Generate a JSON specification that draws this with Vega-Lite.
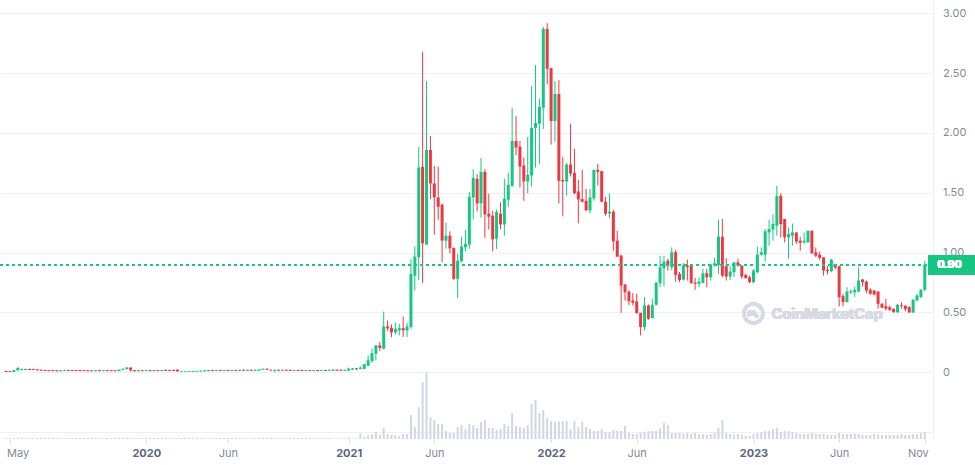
{
"$schema": "https://vega.github.io/schema/vega-lite/v6.json",
"width": 933,
"height": 439,
"autosize": {"type": "none"},
"padding": {"left": 0, "top": 0, "right": 42, "bottom": 26},
"background": "#ffffff",
"config": {"view": {"stroke": null}, "font": "Inter"},
"data": {"values": [
{"d":"2019-04-29","o":0.011,"h":0.012,"l":0.002,"c":0.003,"v":1.5},
{"d":"2019-05-06","o":0.010,"h":0.011,"l":0.002,"c":0.003,"v":1.5},
{"d":"2019-05-13","o":0.004,"h":0.021,"l":0.003,"c":0.019,"v":1.5},
{"d":"2019-05-20","o":0.016,"h":0.043,"l":0.014,"c":0.036,"v":1.5},
{"d":"2019-05-27","o":0.019,"h":0.031,"l":0.018,"c":0.028,"v":1.5},
{"d":"2019-06-03","o":0.019,"h":0.030,"l":0.018,"c":0.028,"v":1.5},
{"d":"2019-06-10","o":0.028,"h":0.031,"l":0.018,"c":0.020,"v":1.5},
{"d":"2019-06-17","o":0.027,"h":0.029,"l":0.018,"c":0.019,"v":1.5},
{"d":"2019-06-24","o":0.024,"h":0.025,"l":0.014,"c":0.016,"v":1.5},
{"d":"2019-07-01","o":0.022,"h":0.023,"l":0.012,"c":0.014,"v":1.5},
{"d":"2019-07-08","o":0.020,"h":0.021,"l":0.011,"c":0.012,"v":1.5},
{"d":"2019-07-15","o":0.018,"h":0.019,"l":0.009,"c":0.010,"v":1.5},
{"d":"2019-07-22","o":0.018,"h":0.019,"l":0.009,"c":0.010,"v":1.5},
{"d":"2019-07-29","o":0.017,"h":0.018,"l":0.007,"c":0.009,"v":1.5},
{"d":"2019-08-05","o":0.009,"h":0.019,"l":0.008,"c":0.017,"v":1.5},
{"d":"2019-08-12","o":0.012,"h":0.022,"l":0.011,"c":0.020,"v":1.5},
{"d":"2019-08-19","o":0.020,"h":0.021,"l":0.011,"c":0.012,"v":1.5},
{"d":"2019-08-26","o":0.019,"h":0.020,"l":0.010,"c":0.011,"v":1.5},
{"d":"2019-09-02","o":0.019,"h":0.020,"l":0.010,"c":0.011,"v":1.5},
{"d":"2019-09-09","o":0.019,"h":0.020,"l":0.009,"c":0.011,"v":1.5},
{"d":"2019-09-16","o":0.018,"h":0.019,"l":0.009,"c":0.010,"v":1.5},
{"d":"2019-09-23","o":0.017,"h":0.018,"l":0.008,"c":0.009,"v":1.5},
{"d":"2019-09-30","o":0.017,"h":0.018,"l":0.008,"c":0.009,"v":1.5},
{"d":"2019-10-07","o":0.009,"h":0.019,"l":0.008,"c":0.017,"v":1.5},
{"d":"2019-10-14","o":0.018,"h":0.019,"l":0.009,"c":0.010,"v":1.5},
{"d":"2019-10-21","o":0.010,"h":0.020,"l":0.009,"c":0.018,"v":1.5},
{"d":"2019-10-28","o":0.018,"h":0.020,"l":0.009,"c":0.010,"v":1.5},
{"d":"2019-11-04","o":0.018,"h":0.019,"l":0.009,"c":0.010,"v":1.5},
{"d":"2019-11-11","o":0.017,"h":0.018,"l":0.008,"c":0.009,"v":1.5},
{"d":"2019-11-18","o":0.010,"h":0.024,"l":0.009,"c":0.022,"v":1.5},
{"d":"2019-11-25","o":0.021,"h":0.032,"l":0.020,"c":0.030,"v":1.5},
{"d":"2019-12-02","o":0.026,"h":0.042,"l":0.025,"c":0.040,"v":1.5},
{"d":"2019-12-09","o":0.040,"h":0.041,"l":0.006,"c":0.016,"v":1.5},
{"d":"2019-12-16","o":0.018,"h":0.019,"l":0.007,"c":0.009,"v":1.5},
{"d":"2019-12-23","o":0.009,"h":0.020,"l":0.008,"c":0.018,"v":1.5},
{"d":"2019-12-30","o":0.017,"h":0.019,"l":0.008,"c":0.010,"v":1.5},
{"d":"2020-01-06","o":0.010,"h":0.020,"l":0.009,"c":0.018,"v":1.5},
{"d":"2020-01-13","o":0.018,"h":0.019,"l":0.009,"c":0.010,"v":1.5},
{"d":"2020-01-20","o":0.010,"h":0.021,"l":0.009,"c":0.019,"v":1.5},
{"d":"2020-01-27","o":0.019,"h":0.020,"l":0.010,"c":0.011,"v":1.5},
{"d":"2020-02-03","o":0.011,"h":0.021,"l":0.010,"c":0.019,"v":1.5},
{"d":"2020-02-10","o":0.020,"h":0.024,"l":0.011,"c":0.012,"v":1.5},
{"d":"2020-02-17","o":0.019,"h":0.021,"l":0.010,"c":0.011,"v":1.5},
{"d":"2020-02-24","o":0.020,"h":0.022,"l":0.010,"c":0.012,"v":1.5},
{"d":"2020-03-02","o":0.022,"h":0.024,"l":0.005,"c":0.008,"v":1.5},
{"d":"2020-03-09","o":0.003,"h":0.009,"l":0.002,"c":0.009,"v":1.5},
{"d":"2020-03-16","o":0.004,"h":0.010,"l":0.003,"c":0.010,"v":1.5},
{"d":"2020-03-23","o":0.004,"h":0.010,"l":0.003,"c":0.010,"v":1.5},
{"d":"2020-03-30","o":0.004,"h":0.011,"l":0.003,"c":0.011,"v":1.5},
{"d":"2020-04-06","o":0.005,"h":0.012,"l":0.004,"c":0.012,"v":1.5},
{"d":"2020-04-13","o":0.006,"h":0.014,"l":0.005,"c":0.014,"v":1.5},
{"d":"2020-04-20","o":0.008,"h":0.018,"l":0.007,"c":0.017,"v":1.5},
{"d":"2020-04-27","o":0.010,"h":0.020,"l":0.009,"c":0.019,"v":1.5},
{"d":"2020-05-04","o":0.019,"h":0.021,"l":0.010,"c":0.012,"v":1.5},
{"d":"2020-05-11","o":0.012,"h":0.021,"l":0.011,"c":0.020,"v":1.5},
{"d":"2020-05-18","o":0.020,"h":0.022,"l":0.011,"c":0.012,"v":1.5},
{"d":"2020-05-25","o":0.012,"h":0.021,"l":0.011,"c":0.020,"v":1.5},
{"d":"2020-06-01","o":0.020,"h":0.021,"l":0.011,"c":0.012,"v":1.5},
{"d":"2020-06-08","o":0.012,"h":0.021,"l":0.011,"c":0.020,"v":1.5},
{"d":"2020-06-15","o":0.020,"h":0.022,"l":0.011,"c":0.012,"v":1.5},
{"d":"2020-06-22","o":0.012,"h":0.022,"l":0.011,"c":0.021,"v":1.5},
{"d":"2020-06-29","o":0.021,"h":0.022,"l":0.012,"c":0.013,"v":1.5},
{"d":"2020-07-06","o":0.013,"h":0.022,"l":0.012,"c":0.021,"v":1.5},
{"d":"2020-07-13","o":0.021,"h":0.022,"l":0.012,"c":0.013,"v":1.5},
{"d":"2020-07-20","o":0.013,"h":0.023,"l":0.012,"c":0.022,"v":1.5},
{"d":"2020-07-27","o":0.014,"h":0.026,"l":0.013,"c":0.024,"v":1.5},
{"d":"2020-08-03","o":0.022,"h":0.032,"l":0.021,"c":0.030,"v":1.5},
{"d":"2020-08-10","o":0.030,"h":0.031,"l":0.019,"c":0.021,"v":1.5},
{"d":"2020-08-17","o":0.021,"h":0.023,"l":0.013,"c":0.014,"v":1.5},
{"d":"2020-08-24","o":0.013,"h":0.022,"l":0.000,"c":0.021,"v":1.5},
{"d":"2020-08-31","o":0.021,"h":0.022,"l":0.012,"c":0.013,"v":1.5},
{"d":"2020-09-07","o":0.013,"h":0.022,"l":0.012,"c":0.021,"v":1.5},
{"d":"2020-09-14","o":0.021,"h":0.022,"l":0.012,"c":0.013,"v":1.5},
{"d":"2020-09-21","o":0.021,"h":0.022,"l":0.011,"c":0.012,"v":1.5},
{"d":"2020-09-28","o":0.012,"h":0.021,"l":0.011,"c":0.020,"v":1.5},
{"d":"2020-10-05","o":0.020,"h":0.021,"l":0.011,"c":0.012,"v":1.5},
{"d":"2020-10-12","o":0.020,"h":0.021,"l":0.010,"c":0.011,"v":1.5},
{"d":"2020-10-19","o":0.011,"h":0.020,"l":0.010,"c":0.019,"v":1.5},
{"d":"2020-10-26","o":0.019,"h":0.020,"l":0.010,"c":0.011,"v":1.5},
{"d":"2020-11-02","o":0.011,"h":0.020,"l":0.010,"c":0.019,"v":1.5},
{"d":"2020-11-09","o":0.019,"h":0.020,"l":0.010,"c":0.011,"v":1.5},
{"d":"2020-11-16","o":0.011,"h":0.020,"l":0.010,"c":0.019,"v":1.5},
{"d":"2020-11-23","o":0.019,"h":0.021,"l":0.010,"c":0.011,"v":1.5},
{"d":"2020-11-30","o":0.012,"h":0.022,"l":0.011,"c":0.021,"v":1.5},
{"d":"2020-12-07","o":0.013,"h":0.024,"l":0.012,"c":0.023,"v":1},
{"d":"2020-12-14","o":0.022,"h":0.023,"l":0.012,"c":0.013,"v":1},
{"d":"2020-12-21","o":0.021,"h":0.022,"l":0.011,"c":0.012,"v":1},
{"d":"2020-12-28","o":0.012,"h":0.022,"l":0.011,"c":0.021,"v":1},
{"d":"2021-01-04","o":0.014,"h":0.039,"l":0.012,"c":0.030,"v":2.5},
{"d":"2021-01-11","o":0.022,"h":0.036,"l":0.020,"c":0.033,"v":1},
{"d":"2021-01-18","o":0.033,"h":0.035,"l":0.018,"c":0.025,"v":1},
{"d":"2021-01-25","o":0.028,"h":0.050,"l":0.026,"c":0.039,"v":8.5},
{"d":"2021-02-01","o":0.028,"h":0.070,"l":0.026,"c":0.067,"v":3},
{"d":"2021-02-08","o":0.055,"h":0.140,"l":0.053,"c":0.100,"v":6},
{"d":"2021-02-15","o":0.094,"h":0.200,"l":0.078,"c":0.160,"v":7.5},
{"d":"2021-02-22","o":0.155,"h":0.228,"l":0.100,"c":0.225,"v":10.6},
{"d":"2021-03-01","o":0.225,"h":0.253,"l":0.178,"c":0.203,"v":6},
{"d":"2021-03-08","o":0.197,"h":0.508,"l":0.190,"c":0.383,"v":16.6},
{"d":"2021-03-15","o":0.383,"h":0.433,"l":0.344,"c":0.367,"v":7.5},
{"d":"2021-03-22","o":0.372,"h":0.400,"l":0.294,"c":0.333,"v":6},
{"d":"2021-03-29","o":0.333,"h":0.417,"l":0.317,"c":0.364,"v":6},
{"d":"2021-04-05","o":0.350,"h":0.406,"l":0.308,"c":0.369,"v":4.5},
{"d":"2021-04-12","o":0.369,"h":0.467,"l":0.294,"c":0.350,"v":7.5},
{"d":"2021-04-19","o":0.350,"h":0.414,"l":0.294,"c":0.383,"v":7.5},
{"d":"2021-04-26","o":0.378,"h":0.944,"l":0.364,"c":0.822,"v":36},
{"d":"2021-05-03","o":0.808,"h":1.050,"l":0.683,"c":0.967,"v":18},
{"d":"2021-05-10","o":0.961,"h":1.883,"l":0.772,"c":1.711,"v":48},
{"d":"2021-05-17","o":1.717,"h":2.675,"l":0.744,"c":1.078,"v":86},
{"d":"2021-05-24","o":1.067,"h":2.433,"l":1.067,"c":1.858,"v":100},
{"d":"2021-05-31","o":1.858,"h":1.975,"l":1.447,"c":1.578,"v":33},
{"d":"2021-06-07","o":1.578,"h":1.725,"l":1.150,"c":1.461,"v":28.6},
{"d":"2021-06-14","o":1.461,"h":1.719,"l":1.275,"c":1.383,"v":22.6},
{"d":"2021-06-21","o":1.400,"h":1.411,"l":0.919,"c":1.100,"v":22.6},
{"d":"2021-06-28","o":1.100,"h":1.250,"l":1.033,"c":1.142,"v":12},
{"d":"2021-07-05","o":1.142,"h":1.178,"l":0.994,"c":1.036,"v":9},
{"d":"2021-07-12","o":1.039,"h":1.044,"l":0.772,"c":0.781,"v":9},
{"d":"2021-07-19","o":0.781,"h":0.989,"l":0.619,"c":0.933,"v":18},
{"d":"2021-07-26","o":0.928,"h":1.133,"l":0.919,"c":1.050,"v":21},
{"d":"2021-08-02","o":1.044,"h":1.190,"l":1.010,"c":1.072,"v":15},
{"d":"2021-08-09","o":1.067,"h":1.508,"l":1.030,"c":1.467,"v":22.6},
{"d":"2021-08-16","o":1.461,"h":1.697,"l":1.278,"c":1.625,"v":21},
{"d":"2021-08-23","o":1.617,"h":1.656,"l":1.344,"c":1.411,"v":16.6},
{"d":"2021-08-30","o":1.411,"h":1.792,"l":1.292,"c":1.675,"v":25.6},
{"d":"2021-09-06","o":1.675,"h":1.697,"l":1.122,"c":1.319,"v":28.6},
{"d":"2021-09-13","o":1.325,"h":1.492,"l":1.194,"c":1.300,"v":16.6},
{"d":"2021-09-20","o":1.308,"h":1.350,"l":1.011,"c":1.111,"v":16.6},
{"d":"2021-09-27","o":1.117,"h":1.360,"l":1.031,"c":1.340,"v":13.6},
{"d":"2021-10-04","o":1.325,"h":1.420,"l":1.194,"c":1.236,"v":15},
{"d":"2021-10-11","o":1.236,"h":1.617,"l":1.142,"c":1.450,"v":22.6},
{"d":"2021-10-18","o":1.442,"h":1.667,"l":1.380,"c":1.567,"v":19.6},
{"d":"2021-10-25","o":1.558,"h":2.211,"l":1.550,"c":1.933,"v":39},
{"d":"2021-11-01","o":1.933,"h":2.142,"l":1.814,"c":1.878,"v":19.6},
{"d":"2021-11-08","o":1.886,"h":1.933,"l":1.544,"c":1.719,"v":18},
{"d":"2021-11-15","o":1.728,"h":1.794,"l":1.433,"c":1.594,"v":16.6},
{"d":"2021-11-22","o":1.594,"h":1.967,"l":1.497,"c":1.650,"v":21},
{"d":"2021-11-29","o":1.644,"h":2.392,"l":1.550,"c":2.042,"v":52.8},
{"d":"2021-12-06","o":2.042,"h":2.567,"l":1.711,"c":2.083,"v":58.8},
{"d":"2021-12-13","o":2.078,"h":2.286,"l":1.739,"c":2.217,"v":39},
{"d":"2021-12-20","o":2.211,"h":2.886,"l":2.033,"c":2.869,"v":43.7},
{"d":"2021-12-27","o":2.869,"h":2.917,"l":2.406,"c":2.536,"v":31.7},
{"d":"2022-01-03","o":2.542,"h":2.542,"l":1.903,"c":2.100,"v":27},
{"d":"2022-01-10","o":2.100,"h":2.433,"l":1.928,"c":2.325,"v":25.6},
{"d":"2022-01-17","o":2.325,"h":2.442,"l":1.411,"c":1.600,"v":27},
{"d":"2022-01-24","o":1.608,"h":1.800,"l":1.303,"c":1.594,"v":27},
{"d":"2022-01-31","o":1.594,"h":1.750,"l":1.475,"c":1.736,"v":27},
{"d":"2022-02-07","o":1.736,"h":2.078,"l":1.636,"c":1.661,"v":15},
{"d":"2022-02-14","o":1.667,"h":1.867,"l":1.489,"c":1.497,"v":27},
{"d":"2022-02-21","o":1.511,"h":1.608,"l":1.244,"c":1.444,"v":18},
{"d":"2022-02-28","o":1.447,"h":1.692,"l":1.420,"c":1.425,"v":25.6},
{"d":"2022-03-07","o":1.433,"h":1.531,"l":1.350,"c":1.353,"v":18},
{"d":"2022-03-14","o":1.353,"h":1.531,"l":1.328,"c":1.461,"v":15},
{"d":"2022-03-21","o":1.453,"h":1.692,"l":1.433,"c":1.692,"v":12},
{"d":"2022-03-28","o":1.692,"h":1.742,"l":1.561,"c":1.675,"v":12},
{"d":"2022-04-04","o":1.681,"h":1.681,"l":1.419,"c":1.425,"v":15},
{"d":"2022-04-11","o":1.425,"h":1.467,"l":1.308,"c":1.325,"v":10.6},
{"d":"2022-04-18","o":1.328,"h":1.494,"l":1.289,"c":1.342,"v":10.6},
{"d":"2022-04-25","o":1.342,"h":1.358,"l":1.017,"c":1.094,"v":13.6},
{"d":"2022-05-02","o":1.100,"h":1.183,"l":0.961,"c":0.967,"v":12},
{"d":"2022-05-09","o":0.975,"h":0.983,"l":0.497,"c":0.725,"v":12},
{"d":"2022-05-16","o":0.733,"h":0.739,"l":0.600,"c":0.669,"v":19.6},
{"d":"2022-05-23","o":0.675,"h":0.683,"l":0.561,"c":0.594,"v":9},
{"d":"2022-05-30","o":0.600,"h":0.661,"l":0.558,"c":0.581,"v":7.5},
{"d":"2022-06-06","o":0.592,"h":0.656,"l":0.489,"c":0.494,"v":7.5},
{"d":"2022-06-13","o":0.497,"h":0.497,"l":0.308,"c":0.378,"v":9},
{"d":"2022-06-20","o":0.378,"h":0.628,"l":0.350,"c":0.558,"v":10.6},
{"d":"2022-06-27","o":0.558,"h":0.567,"l":0.439,"c":0.447,"v":12},
{"d":"2022-07-04","o":0.453,"h":0.614,"l":0.450,"c":0.564,"v":12},
{"d":"2022-07-11","o":0.564,"h":0.750,"l":0.558,"c":0.750,"v":12},
{"d":"2022-07-18","o":0.744,"h":0.975,"l":0.711,"c":0.878,"v":16.6},
{"d":"2022-07-25","o":0.869,"h":0.975,"l":0.717,"c":0.925,"v":24},
{"d":"2022-08-01","o":0.933,"h":0.950,"l":0.850,"c":0.892,"v":21},
{"d":"2022-08-08","o":0.878,"h":1.044,"l":0.850,"c":1.003,"v":9},
{"d":"2022-08-15","o":1.003,"h":1.025,"l":0.758,"c":0.814,"v":9},
{"d":"2022-08-22","o":0.822,"h":0.839,"l":0.753,"c":0.772,"v":9},
{"d":"2022-08-29","o":0.775,"h":0.911,"l":0.767,"c":0.892,"v":7.5},
{"d":"2022-09-05","o":0.892,"h":0.942,"l":0.767,"c":0.878,"v":9},
{"d":"2022-09-12","o":0.892,"h":0.892,"l":0.739,"c":0.747,"v":7.5},
{"d":"2022-09-19","o":0.750,"h":0.789,"l":0.689,"c":0.739,"v":9},
{"d":"2022-09-26","o":0.739,"h":0.794,"l":0.711,"c":0.758,"v":7.5},
{"d":"2022-10-03","o":0.747,"h":0.864,"l":0.744,"c":0.828,"v":7.5},
{"d":"2022-10-10","o":0.828,"h":0.864,"l":0.711,"c":0.794,"v":6},
{"d":"2022-10-17","o":0.794,"h":0.906,"l":0.767,"c":0.900,"v":7.5},
{"d":"2022-10-24","o":0.897,"h":0.956,"l":0.883,"c":0.911,"v":9},
{"d":"2022-10-31","o":0.897,"h":1.275,"l":0.822,"c":1.133,"v":16.6},
{"d":"2022-11-07","o":1.133,"h":1.281,"l":0.794,"c":0.808,"v":28.6},
{"d":"2022-11-14","o":0.886,"h":0.953,"l":0.767,"c":0.800,"v":9},
{"d":"2022-11-21","o":0.800,"h":0.883,"l":0.772,"c":0.842,"v":7.5},
{"d":"2022-11-28","o":0.836,"h":0.919,"l":0.794,"c":0.919,"v":6},
{"d":"2022-12-05","o":0.919,"h":0.950,"l":0.883,"c":0.892,"v":7.5},
{"d":"2022-12-12","o":0.892,"h":0.892,"l":0.781,"c":0.800,"v":6},
{"d":"2022-12-19","o":0.814,"h":0.822,"l":0.786,"c":0.786,"v":4.5},
{"d":"2022-12-26","o":0.794,"h":0.808,"l":0.744,"c":0.753,"v":4.5},
{"d":"2023-01-02","o":0.753,"h":0.864,"l":0.744,"c":0.850,"v":7.5},
{"d":"2023-01-09","o":0.836,"h":1.050,"l":0.828,"c":0.983,"v":9},
{"d":"2023-01-16","o":0.983,"h":1.044,"l":0.975,"c":1.003,"v":10.6},
{"d":"2023-01-23","o":0.983,"h":1.197,"l":0.925,"c":1.178,"v":12},
{"d":"2023-01-30","o":1.169,"h":1.275,"l":1.058,"c":1.197,"v":12},
{"d":"2023-02-06","o":1.192,"h":1.320,"l":1.100,"c":1.239,"v":15},
{"d":"2023-02-13","o":1.225,"h":1.558,"l":1.142,"c":1.475,"v":16.6},
{"d":"2023-02-20","o":1.475,"h":1.497,"l":1.128,"c":1.239,"v":10.6},
{"d":"2023-02-27","o":1.281,"h":1.281,"l":1.086,"c":1.128,"v":12},
{"d":"2023-03-06","o":1.128,"h":1.211,"l":0.947,"c":1.156,"v":12},
{"d":"2023-03-13","o":1.142,"h":1.244,"l":1.058,"c":1.169,"v":10.6},
{"d":"2023-03-20","o":1.169,"h":1.169,"l":1.072,"c":1.092,"v":9},
{"d":"2023-03-27","o":1.100,"h":1.133,"l":1.017,"c":1.081,"v":7.5},
{"d":"2023-04-03","o":1.086,"h":1.169,"l":1.072,"c":1.100,"v":7.5},
{"d":"2023-04-10","o":1.086,"h":1.183,"l":1.081,"c":1.183,"v":7.5},
{"d":"2023-04-17","o":1.183,"h":1.183,"l":0.989,"c":0.994,"v":9},
{"d":"2023-04-24","o":1.003,"h":1.044,"l":0.961,"c":0.975,"v":7.5},
{"d":"2023-05-01","o":0.983,"h":1.008,"l":0.939,"c":0.956,"v":7.5},
{"d":"2023-05-08","o":0.961,"h":0.961,"l":0.808,"c":0.850,"v":7.5},
{"d":"2023-05-15","o":0.856,"h":0.889,"l":0.817,"c":0.845,"v":6},
{"d":"2023-05-22","o":0.844,"h":0.947,"l":0.836,"c":0.942,"v":6},
{"d":"2023-05-29","o":0.900,"h":0.900,"l":0.860,"c":0.875,"v":6},
{"d":"2023-06-05","o":0.886,"h":0.892,"l":0.550,"c":0.628,"v":9},
{"d":"2023-06-12","o":0.636,"h":0.656,"l":0.553,"c":0.586,"v":7.5},
{"d":"2023-06-19","o":0.586,"h":0.711,"l":0.586,"c":0.675,"v":7.5},
{"d":"2023-06-26","o":0.664,"h":0.692,"l":0.656,"c":0.675,"v":7.5},
{"d":"2023-07-03","o":0.669,"h":0.717,"l":0.628,"c":0.689,"v":7.5},
{"d":"2023-07-10","o":0.675,"h":0.878,"l":0.669,"c":0.767,"v":7.5},
{"d":"2023-07-17","o":0.775,"h":0.781,"l":0.717,"c":0.753,"v":6},
{"d":"2023-07-24","o":0.758,"h":0.767,"l":0.661,"c":0.683,"v":6},
{"d":"2023-07-31","o":0.689,"h":0.703,"l":0.647,"c":0.656,"v":6},
{"d":"2023-08-07","o":0.683,"h":0.689,"l":0.642,"c":0.650,"v":7.5},
{"d":"2023-08-14","o":0.675,"h":0.678,"l":0.531,"c":0.572,"v":6},
{"d":"2023-08-21","o":0.572,"h":0.578,"l":0.536,"c":0.540,"v":6},
{"d":"2023-08-28","o":0.553,"h":0.614,"l":0.517,"c":0.531,"v":6},
{"d":"2023-09-04","o":0.544,"h":0.558,"l":0.511,"c":0.522,"v":6},
{"d":"2023-09-11","o":0.531,"h":0.531,"l":0.497,"c":0.503,"v":6},
{"d":"2023-09-18","o":0.503,"h":0.572,"l":0.494,"c":0.564,"v":6},
{"d":"2023-09-25","o":0.561,"h":0.586,"l":0.531,"c":0.553,"v":7.5},
{"d":"2023-10-02","o":0.556,"h":0.561,"l":0.511,"c":0.528,"v":6},
{"d":"2023-10-09","o":0.544,"h":0.556,"l":0.494,"c":0.500,"v":6},
{"d":"2023-10-16","o":0.500,"h":0.608,"l":0.494,"c":0.608,"v":7.5},
{"d":"2023-10-23","o":0.600,"h":0.656,"l":0.594,"c":0.642,"v":7.5},
{"d":"2023-10-30","o":0.628,"h":0.697,"l":0.622,"c":0.689,"v":9},
{"d":"2023-11-06","o":0.689,"h":0.933,"l":0.678,"c":0.900,"v":10.6}
]},
"layer": [
{
"mark": {"type": "bar", "size": 2, "color": "#cfd6e4"},
"encoding": {
"x": {"field": "d", "type": "temporal",
"scale": {"type": "utc", "domain": [{"year": 2019, "month": 4, "date": 27, "hours": 1, "utc": true}, {"year": 2023, "month": 11, "date": 11, "hours": 18, "minutes": 30, "utc": true}]},
"axis": {
"values": [
{"year": 2019, "month": 5, "date": 6, "utc": true},
{"year": 2020, "month": 1, "date": 6, "utc": true},
{"year": 2020, "month": 6, "date": 1, "utc": true},
{"year": 2021, "month": 1, "date": 4, "utc": true},
{"year": 2021, "month": 6, "date": 7, "utc": true},
{"year": 2022, "month": 1, "date": 3, "utc": true},
{"year": 2022, "month": 6, "date": 6, "utc": true},
{"year": 2023, "month": 1, "date": 2, "utc": true},
{"year": 2023, "month": 6, "date": 5, "utc": true},
{"year": 2023, "month": 11, "date": 6, "utc": true}
],
"labelExpr": "utcmonth(datum.value) === 0 ? utcFormat(datum.value, '%Y') : utcFormat(datum.value, '%b')",
"labelFontWeight": {"condition": {"test": "utcmonth(datum.value) === 0", "value": "bold"}, "value": "normal"},
"labelColor": {"condition": {"test": "utcmonth(datum.value) === 0", "value": "#58667e"}, "value": "#808a9d"},
"labelFont": "Inter", "labelFontSize": 11,
"labelFlush": 10, "labelFlushOffset": 3.5,
"labelOverlap": false, "labelPadding": 5,
"domain": false, "grid": false,
"ticks": true, "tickSize": 3, "tickColor": "#cfd6e4",
"title": null
}
},
"y": {"field": "v", "type": "quantitative", "scale": {"domain": [0, 662], "nice": false, "zero": true}, "axis": null}
}
},
{
"mark": {"type": "text", "font": "Inter", "fontSize": 14.5, "fontWeight": 700, "color": "#d5dae4", "align": "center", "baseline": "middle"},
"encoding": {
"x": {"datum": {"year": 2023, "month": 5, "date": 14, "hours": 7, "utc": true}, "type": "temporal"},
"y": {"datum": 0.479, "type": "quantitative", "scale": {"domain": [-0.5574, 3.111], "nice": false, "zero": false}, "axis": null},
"text": {"value": "CoinMarketCap"}
}
},
{
"mark": {"type": "point", "shape": "circle", "filled": false, "size": 361, "strokeWidth": 3, "color": "#d5dae4", "opacity": 1},
"encoding": {
"x": {"datum": {"year": 2023, "month": 1, "date": 1, "hours": 19, "utc": true}, "type": "temporal"},
"y": {"datum": 0.491, "type": "quantitative", "scale": {"domain": [-0.5574, 3.111], "nice": false, "zero": false}, "axis": null}
}
},
{
"mark": {"type": "point", "shape": "M-0.5,0.35 L-0.5,-0.05 Q-0.35,-0.4 -0.2,-0.05 L-0.15,0.2 Q0,-0.45 0.15,0 L0.22,0.2 Q0.32,0.35 0.5,0.15", "filled": false, "size": 361, "strokeWidth": 2.5, "color": "#d5dae4", "opacity": 1},
"encoding": {
"x": {"datum": {"year": 2023, "month": 1, "date": 1, "hours": 19, "utc": true}, "type": "temporal"},
"y": {"datum": 0.491, "type": "quantitative", "scale": {"domain": [-0.5574, 3.111], "nice": false, "zero": false}, "axis": null}
}
},
{
"mark": {"type": "rule", "strokeWidth": 1},
"encoding": {
"x": {"field": "d", "type": "temporal"},
"y": {"field": "l", "type": "quantitative",
"scale": {"domain": [-0.5574, 3.111], "nice": false, "zero": false},
"axis": {
"orient": "right",
"values": [-0.5, 0, 0.5, 1, 1.5, 2, 2.5, 3],
"labelExpr": "datum.value < 0 ? '' : (datum.value == 0 ? '0' : format(datum.value, '.2f'))",
"grid": true, "gridColor": "#eef0f4", "gridWidth": 1,
"ticks": false,
"domain": true, "domainColor": "#eef0f4",
"labelPadding": 9.5, "labelColor": "#808a9d", "labelFont": "Inter", "labelFontSize": 11,
"labelFlush": false, "labelOverlap": false,
"title": null
}
},
"y2": {"field": "h"},
"color": {"condition": {"test": "datum.c >= datum.o", "value": "#16c784"}, "value": "#ea3943"}
}
},
{
"mark": {"type": "bar", "size": 3},
"encoding": {
"x": {"field": "d", "type": "temporal"},
"y": {"field": "o", "type": "quantitative", "scale": {"domain": [-0.5574, 3.111], "nice": false, "zero": false}, "axis": null},
"y2": {"field": "c"},
"color": {"condition": {"test": "datum.c >= datum.o", "value": "#16c784"}, "value": "#ea3943"}
}
},
{
"mark": {"type": "rule", "color": "#16c784", "strokeDash": [3, 3], "strokeWidth": 1},
"encoding": {
"y": {"datum": 0.894, "type": "quantitative", "scale": {"domain": [-0.5574, 3.111], "nice": false, "zero": false}, "axis": null}
}
},
{
"mark": {"type": "rect", "color": "#16c784", "clip": false},
"encoding": {
"x": {"datum": {"year": 2023, "month": 11, "date": 11, "hours": 18, "minutes": 30, "utc": true}, "type": "temporal"},
"x2": {"datum": {"year": 2024, "month": 2, "date": 10, "utc": true}},
"y": {"datum": 0.973, "type": "quantitative", "scale": {"domain": [-0.5574, 3.111], "nice": false, "zero": false}, "axis": null},
"y2": {"datum": 0.815}
}
},
{
"mark": {"type": "text", "color": "#ffffff", "font": "Inter", "fontSize": 11, "fontWeight": 600, "align": "left", "baseline": "middle", "clip": false},
"encoding": {
"x": {"datum": {"year": 2023, "month": 11, "date": 28, "hours": 5, "utc": true}, "type": "temporal"},
"y": {"datum": 0.894, "type": "quantitative", "scale": {"domain": [-0.5574, 3.111], "nice": false, "zero": false}, "axis": null},
"text": {"value": "0.90"}
}
}
],
"resolve": {"scale": {"y": "independent"}}
}
